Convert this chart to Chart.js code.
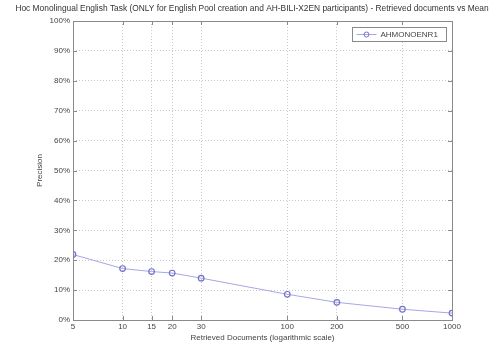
<!DOCTYPE html>
<html>
<head>
<meta charset="utf-8">
<script src="https://cdn.jsdelivr.net/npm/chart.js@4/dist/chart.umd.min.js"></script>
<style>
  html, body { margin: 0; padding: 0; background: #fff; }
  #wrap { width: 498px; height: 347px; }
</style>
</head>
<body>
<div id="wrap"><canvas id="precision_chart"></canvas></div>
<script>
const docs = [5, 10, 15, 20, 30, 100, 200, 500, 1000];
const precision = [21.9, 17.2, 16.2, 15.7, 14.0, 8.6, 5.9, 3.6, 2.3];
const yTicks = [0, 10, 20, 30, 40, 50, 60, 70, 80, 90, 100];
const runName = "AHMONOENR1";
const titleText = "Hoc Monolingual English Task (ONLY for English Pool creation and AH-BILI-X2EN participants) - Retrieved documents vs Mean";

const lineColor = "#a6a6e8";
const markerColor = "#7272c8";
const fontFamily = "'Liberation Sans', Arial, sans-serif";

// title, frame, inward ticks and legend box, matlab style
const framePlugin = {
  id: "frame",
  afterDraw(chart) {
    const ctx = chart.ctx;
    const a = chart.chartArea;
    const xs = chart.scales.x, ys = chart.scales.y;
    ctx.save();

    ctx.fillStyle = "#333";
    ctx.font = "8.4px " + fontFamily;
    ctx.textAlign = "center";
    ctx.textBaseline = "middle";
    ctx.fillText(titleText, 252, 9, 486);

    ctx.strokeStyle = "#8a8a8a";
    ctx.lineWidth = 1;
    ctx.strokeRect(a.left + 0.5, a.top + 0.5, a.right - a.left, a.bottom - a.top);
    ctx.beginPath();
    docs.forEach(v => {
      const px = Math.round(xs.getPixelForValue(v)) + 0.5;
      ctx.moveTo(px, a.top); ctx.lineTo(px, a.top + 4);
      ctx.moveTo(px, a.bottom); ctx.lineTo(px, a.bottom - 4);
    });
    yTicks.forEach(v => {
      const py = Math.round(ys.getPixelForValue(v)) + 0.5;
      ctx.moveTo(a.left, py); ctx.lineTo(a.left + 4, py);
      ctx.moveTo(a.right, py); ctx.lineTo(a.right - 4, py);
    });
    ctx.stroke();

    // legend
    const bx = 352.5, by = 27.5, bw = 94, bh = 14;
    ctx.fillStyle = "#fff";
    ctx.fillRect(bx, by, bw, bh);
    ctx.strokeStyle = "#8a8a8a";
    ctx.strokeRect(bx, by, bw, bh);
    ctx.strokeStyle = lineColor;
    ctx.beginPath();
    ctx.moveTo(bx + 4, by + bh / 2);
    ctx.lineTo(bx + 24, by + bh / 2);
    ctx.stroke();
    ctx.strokeStyle = markerColor;
    ctx.beginPath();
    ctx.arc(bx + 14, by + bh / 2, 2.5, 0, Math.PI * 2);
    ctx.stroke();
    ctx.fillStyle = "#444";
    ctx.font = "8px " + fontFamily;
    ctx.textAlign = "left";
    ctx.fillText(runName, bx + 28, by + bh / 2 + 0.5);
    ctx.restore();
  }
};

const ctx = document.getElementById("precision_chart").getContext("2d");
new Chart(ctx, {
  type: "line",
  data: {
    datasets: [
      {
        label: runName,
        data: docs.map((d, i) => ({ x: d, y: precision[i] })),
        borderColor: lineColor,
        borderWidth: 1,
        pointStyle: "circle",
        pointRadius: 2.8,
        pointBorderWidth: 1.2,
        pointBorderColor: markerColor,
        pointBackgroundColor: "rgba(255,255,255,0)",
        fill: false,
        tension: 0,
      },
    ],
  },
  options: {
    responsive: true,
    maintainAspectRatio: false,
    animation: false,
    layout: { padding: { left: 0, right: 46, top: 21, bottom: 0 } },
    plugins: {
      legend: { display: false },
      tooltip: { enabled: false },
      title: { display: false },
    },
    scales: {
      x: {
        type: "logarithmic",
        min: 5,
        max: 1000,
        afterBuildTicks: scale => { scale.ticks = docs.map(v => ({ value: v })); },
        afterFit: scale => { scale.height = 27; },
        ticks: {
          autoSkip: false,
          maxRotation: 0,
          padding: 2,
          color: "#444",
          font: { family: fontFamily, size: 8 },
          callback: value => String(value),
        },
        grid: { color: "#c8c8c8", lineWidth: 1, drawTicks: false },
        border: { display: false, dash: [1, 2] },
        title: {
          display: true,
          text: "Retrieved Documents (logarithmic scale)",
          color: "#444",
          font: { family: fontFamily, size: 8 },
          padding: { top: 0, bottom: 4 },
        },
      },
      y: {
        min: 0,
        max: 100,
        afterBuildTicks: scale => { scale.ticks = yTicks.map(v => ({ value: v })); },
        afterFit: scale => { scale.width = 73; },
        ticks: {
          padding: 3,
          color: "#444",
          font: { family: fontFamily, size: 8 },
          callback: value => value + "%",
        },
        grid: { color: "#c8c8c8", lineWidth: 1, drawTicks: false },
        border: { display: false, dash: [1, 2] },
        title: {
          display: true,
          text: "Precision",
          color: "#444",
          font: { family: fontFamily, size: 8 },
          padding: { top: 35, bottom: 0 },
        },
      },
    },
  },
  plugins: [framePlugin],
});
</script>
</body>
</html>
